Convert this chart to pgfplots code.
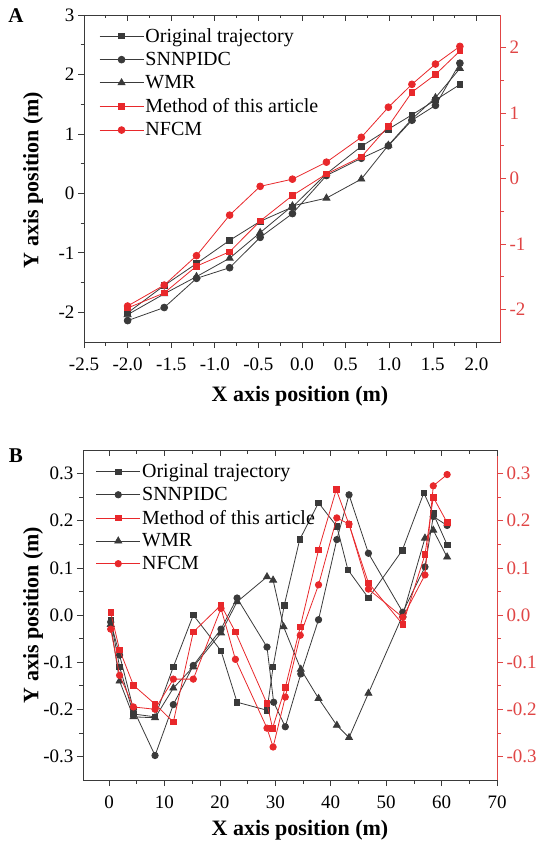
\documentclass[border=0pt]{standalone}
\usepackage{pgfplots}
\pgfplotsset{compat=1.18}
\usepackage{fontspec}
\setmainfont{Liberation Serif}
\definecolor{dk}{HTML}{3A3A3A}
\definecolor{rd}{HTML}{E8282B}
\definecolor{rax}{HTML}{E04545}
\pgfplotsset{
  base/.style={scale only axis, anchor=south west,
    tick label style={font=\fontsize{19}{21}\selectfont},
    x tick label style={yshift=-6pt},
    /pgf/number format/assume math mode=true,
    tick align=outside, major tick length=6pt, minor tick length=3.5pt,
    every tick/.style={line width=0.7pt},
    axis line style={line width=0.9pt},
    clip=false},
  blk/.style={color=dk, line width=0.8pt, mark options={solid, fill=dk}},
  red/.style={color=rd, line width=0.8pt, mark options={solid, fill=rd}},
  legimg/.style={legend image code/.code={
    \draw[mark repeat=2,mark phase=2,##1] plot coordinates {(0pt,0pt) (22pt,0pt) (44pt,0pt)};}},
}
\begin{document}
\begin{tikzpicture}
\path (0pt,0pt) rectangle (542pt,-846pt);
% ---------------- Panel A ----------------
\begin{axis}[base, at={(84pt,-342pt)}, width=416pt, height=327pt,
  xmin=-2.5, xmax=2.27, ymin=-2.5, ymax=3,
  xtick={-2.5,-2,...,2.0}, ytick={-2,-1,0,1,2,3},
  minor x tick num=1, minor y tick num=1,
  xtick pos=bottom, ytick pos=left,
  x tick label style={/pgf/number format/.cd, fixed, fixed zerofill, precision=1},
  axis line style={dk, line width=0.9pt}, every tick/.style={dk, line width=0.7pt},
  legimg,
  legend style={at={(axis cs:-2.34,2.82)}, anchor=north west, draw=none, fill=none,
    font=\fontsize{20}{22}\selectfont, row sep=5.5pt, inner sep=1pt,
    nodes={inner sep=1.5pt}},
  legend cell align=left]
\addplot[blk, mark=square*, mark size=2.8pt] coordinates {
(-2.0,-2.01) (-1.58,-1.55) (-1.21,-1.18) (-0.83,-0.79) (-0.48,-0.47) (-0.11,-0.23)
(0.28,0.33) (0.68,0.79) (0.99,1.08) (1.26,1.32) (1.53,1.57) (1.81,1.83)};
\addlegendentry{Original trajectory}
\addplot[blk, mark=*, mark size=3.4pt] coordinates {
(-2.0,-2.14) (-1.58,-1.92) (-1.21,-1.43) (-0.83,-1.25) (-0.48,-0.74) (-0.11,-0.34)
(0.28,0.30) (0.68,0.59) (0.99,0.80) (1.26,1.23) (1.53,1.48) (1.81,2.19)};
\addlegendentry{SNNPIDC}
\addplot[blk, mark=triangle*, mark size=4pt] coordinates {
(-2.0,-2.04) (-1.58,-1.69) (-1.21,-1.40) (-0.83,-1.09) (-0.48,-0.66) (-0.11,-0.21)
(0.28,-0.08) (0.68,0.24) (0.99,0.81) (1.26,1.25) (1.53,1.61) (1.81,2.10)};
\addlegendentry{WMR}
\addlegendimage{red, mark=square*, mark size=2.8pt}
\addlegendentry{Method of this article}
\addlegendimage{red, mark=*, mark size=3.4pt}
\addlegendentry{NFCM}
\end{axis}
\begin{axis}[base, at={(84pt,-342pt)}, width=416pt, height=327pt,
  xmin=-2.5, xmax=2.27, ymin=-2.5, ymax=2.5,
  axis x line=none, axis y line*=right,
  ytick={-2,-1,0,1,2}, minor y tick num=1,
  y axis line style={rax, line width=0.9pt}, every tick/.style={rax, line width=0.7pt},
  y tick label style={rax}]
\addplot[red, mark=square*, mark size=2.8pt] coordinates {
(-2.0,-1.98) (-1.58,-1.75) (-1.21,-1.34) (-0.83,-1.12) (-0.48,-0.65) (-0.11,-0.26)
(0.28,0.07) (0.68,0.33) (0.99,0.80) (1.26,1.32) (1.53,1.59) (1.81,1.95)};
\addplot[red, mark=*, mark size=3.4pt] coordinates {
(-2.0,-1.95) (-1.58,-1.63) (-1.21,-1.18) (-0.83,-0.56) (-0.48,-0.12) (-0.11,-0.01)
(0.28,0.25) (0.68,0.63) (0.99,1.09) (1.26,1.44) (1.53,1.75) (1.81,2.02)};
\end{axis}
\begin{axis}[base, at={(84pt,-342pt)}, width=416pt, height=327pt,
  xmin=-2.5, xmax=2.27, ymin=0, ymax=1, hide y axis,
  axis x line*=top, tick align=inside, xtick={-2.5,-2,...,2.0}, minor x tick num=1,
  xticklabels={}, axis line style={dk, line width=0.9pt}, every tick/.style={dk, line width=0.7pt}]
\end{axis}
\node[font=\bfseries\fontsize{21}{23}\selectfont] at (16pt,-16pt) {A};
\node[font=\bfseries\fontsize{22}{24}\selectfont] at (300pt,-396pt) {X axis position (m)};
\node[font=\bfseries\fontsize{22}{24}\selectfont, rotate=90] at (33pt,-180pt) {Y axis position (m)};
% ---------------- Panel B ----------------
\begin{axis}[base, at={(83pt,-780pt)}, width=414pt, height=330pt,
  xmin=-4.7, xmax=70, ymin=-0.35, ymax=0.35,
  xtick={0,10,...,70}, ytick={-0.3,-0.2,...,0.31},
  minor x tick num=1, minor y tick num=1,
  xtick pos=bottom, ytick pos=left,
  y tick label style={/pgf/number format/.cd, fixed, fixed zerofill, precision=1},
  axis line style={dk, line width=0.9pt}, every tick/.style={dk, line width=0.7pt},
  legimg,
  legend style={at={(axis cs:-2.6,0.326)}, anchor=north west, draw=none, fill=none,
    font=\fontsize{20}{22}\selectfont, row sep=5pt, inner sep=1pt,
    nodes={inner sep=1.5pt}},
  legend cell align=left]
\addplot[blk, mark=square*, mark size=2.8pt] coordinates {
(0.3,-0.010) (1.9,-0.110) (4.4,-0.210) (8.3,-0.216) (11.6,-0.110) (15.2,0.000)
(20.2,-0.076) (23.1,-0.185) (28.5,-0.202) (29.6,-0.110) (31.6,0.020) (34.4,0.160)
(37.8,0.238) (41.1,0.188) (43.1,0.096) (46.8,0.036) (52.9,0.137) (56.8,0.259)
(58.5,0.215) (61.0,0.149)};
\addlegendentry{Original trajectory}
\addplot[blk, mark=*, mark size=3.2pt] coordinates {
(0.3,-0.015) (1.9,-0.085) (4.4,-0.200) (8.3,-0.298) (11.6,-0.190) (15.2,-0.107)
(20.2,-0.030) (23.1,0.036) (28.5,-0.068) (29.7,-0.185) (31.8,-0.237) (34.6,-0.125)
(37.8,-0.010) (41.1,0.160) (43.3,0.255) (46.8,0.131) (53.0,0.006) (57.0,0.102)
(58.5,0.209) (61.0,0.190)};
\addlegendentry{SNNPIDC}
\addlegendimage{red, mark=square*, mark size=2.8pt}
\addlegendentry{Method of this article}
\addplot[blk, mark=triangle*, mark size=4pt] coordinates {
(0.3,-0.020) (1.9,-0.140) (4.4,-0.216) (8.3,-0.218) (11.6,-0.155) (15.2,-0.110)
(20.2,-0.038) (23.1,0.028) (28.5,0.081) (29.6,0.074) (31.5,-0.025) (34.6,-0.115)
(37.8,-0.177) (41.1,-0.234) (43.3,-0.260) (46.8,-0.166) (53.0,0.000) (57.0,0.163)
(58.5,0.180) (61.0,0.123)};
\addlegendentry{WMR}
\addlegendimage{red, mark=*, mark size=3.2pt}
\addlegendentry{NFCM}
\end{axis}
\begin{axis}[base, at={(83pt,-780pt)}, width=414pt, height=330pt,
  xmin=-4.7, xmax=70, ymin=-0.35, ymax=0.35,
  axis x line=none, axis y line*=right,
  ytick={-0.3,-0.2,...,0.31}, minor y tick num=1,
  y tick label style={rax, /pgf/number format/.cd, fixed, fixed zerofill, precision=1},
  y axis line style={rax, line width=0.9pt}, every tick/.style={rax, line width=0.7pt}]
\addplot[red, mark=square*, mark size=2.8pt] coordinates {
(0.3,0.005) (1.9,-0.074) (4.4,-0.149) (8.3,-0.189) (11.6,-0.227) (15.2,-0.036)
(20.2,0.021) (22.8,-0.036) (28.5,-0.188) (29.5,-0.240) (31.8,-0.154) (34.5,-0.025)
(37.8,0.138) (41.0,0.266) (43.3,0.192) (46.8,0.068) (53.0,-0.020) (57.0,0.128)
(58.5,0.250) (61.0,0.196)};
\addplot[red, mark=*, mark size=3.2pt] coordinates {
(0.3,-0.030) (1.9,-0.128) (4.4,-0.195) (8.3,-0.200) (11.6,-0.136) (15.2,-0.136)
(20.2,0.014) (22.8,-0.094) (28.5,-0.240) (29.6,-0.280) (31.8,-0.174) (34.5,-0.043)
(37.8,0.064) (41.1,0.206) (43.3,0.193) (46.8,0.055) (53.0,-0.005) (57.0,0.085)
(58.5,0.274) (61.0,0.298)};
\end{axis}
\begin{axis}[base, at={(83pt,-780pt)}, width=414pt, height=330pt,
  xmin=-4.7, xmax=70, ymin=0, ymax=1, hide y axis,
  axis x line*=top, tick align=inside, xtick={0,10,...,70}, minor x tick num=1,
  xticklabels={}, axis line style={dk, line width=0.9pt}, every tick/.style={dk, line width=0.7pt}]
\end{axis}
\node[font=\bfseries\fontsize{21}{23}\selectfont] at (16pt,-456pt) {B};
\node[font=\bfseries\fontsize{22}{24}\selectfont] at (300pt,-830pt) {X axis position (m)};
\node[font=\bfseries\fontsize{22}{24}\selectfont, rotate=90] at (33pt,-615pt) {Y axis position (m)};
\end{tikzpicture}
\end{document}
